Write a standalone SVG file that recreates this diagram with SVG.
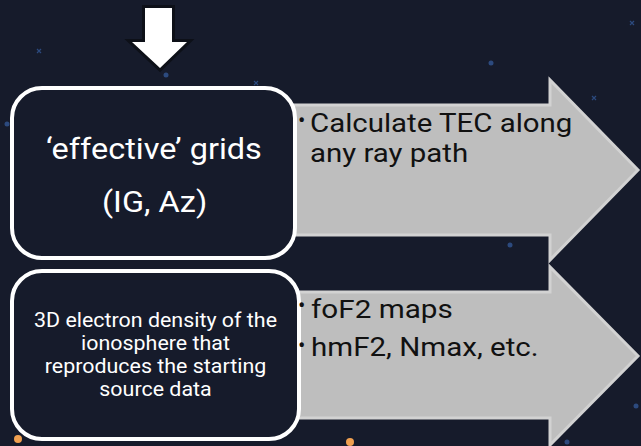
<svg xmlns="http://www.w3.org/2000/svg" width="641" height="446" viewBox="0 0 641 446">
<style>
.bg{fill:#161b2b}
.arrow{fill:#bebebe;stroke:#d2d2d2;stroke-width:3;stroke-linejoin:miter}
.box{fill:#161b2b;stroke:#ffffff;stroke-width:4}
.wt{font-family:Roboto,"Liberation Sans",sans-serif;fill:#ffffff}
.ct{text-anchor:middle;font-size:20.5px}
.bt{font-family:Roboto,"Liberation Sans",sans-serif;fill:#111111;font-size:26.5px}
.bul{font-family:Roboto,"Liberation Sans",sans-serif;fill:#111111;font-size:22px}
.star{fill:#2c4a7e}
.xs{stroke:#2c4a7e;stroke-width:1.2}
.orange{fill:#f0a050}
</style>
<rect class="bg" x="0" y="0" width="641" height="446"/>
<g id="stars">
<circle class="star" cx="166" cy="75" r="2.5"/>
<circle class="star" cx="491" cy="63" r="2.5"/>
<circle class="star" cx="7" cy="124" r="2.5"/>
<circle class="star" cx="510" cy="245" r="2.5"/>
<circle class="star" cx="636" cy="406" r="2.5"/>
<circle class="star" cx="567" cy="442" r="2.5"/>
<circle class="orange" cx="18" cy="439" r="4"/>
<circle class="orange" cx="350" cy="442" r="4"/>
<path class="xs" d="M37 49l4 4M41 49l-4 4M254 81l4 4M258 81l-4 4M630 21l4 4M634 21l-4 4M592 96l4 4M596 96l-4 4"/>
</g>
<g id="connectors">
<polygon id="down-arrow" points="145,8 172,8 172,42 187,42 160,68 132,42 145,42" fill="#ffffff" stroke="#0d1018" stroke-width="6" stroke-linejoin="miter" paint-order="stroke"/>
<polygon id="arrow-top" class="arrow" points="280,105 550,105 550,80 638,170 550,260 550,235 280,235"/>
<polygon id="arrow-bottom" class="arrow" points="280,292 550,292 550,267 638,356 550,445 550,418 280,418"/>
</g>
<g id="node-grids">
<rect class="box" x="12" y="88" width="283" height="170" rx="30" ry="30"/>
<text class="wt" transform="translate(46,159) scale(1.12,1)" font-size="29">‘effective’ grids</text>
<text class="wt" transform="translate(102,212) scale(1.12,1)" font-size="29">(IG, Az)</text>
</g>
<g id="node-density">
<rect class="box" x="12" y="271" width="287" height="168" rx="30" ry="30"/>
<text class="wt ct" transform="translate(155.5,327) scale(1.045,1)">3D electron density of the</text>
<text class="wt ct" transform="translate(155.5,350) scale(1.045,1)">ionosphere that</text>
<text class="wt ct" transform="translate(155.5,373) scale(1.045,1)">reproduces the starting</text>
<text class="wt ct" transform="translate(155.5,396) scale(1.045,1)">source data</text>
</g>
<g id="label-top">
<text class="bul" x="298" y="128">•</text>
<text class="bt" transform="translate(310,132) scale(1.11,1)">Calculate TEC along</text>
<text class="bt" transform="translate(310,162) scale(1.11,1)">any ray path</text>
</g>
<g id="label-bottom">
<text class="bul" x="298" y="313">•</text>
<text class="bt" transform="translate(311,318) scale(1.12,1)">foF2 maps</text>
<text class="bul" x="298" y="353">•</text>
<text class="bt" transform="translate(311,356) scale(1.115,1)">hmF2, Nmax, etc.</text>
</g>
</svg>
